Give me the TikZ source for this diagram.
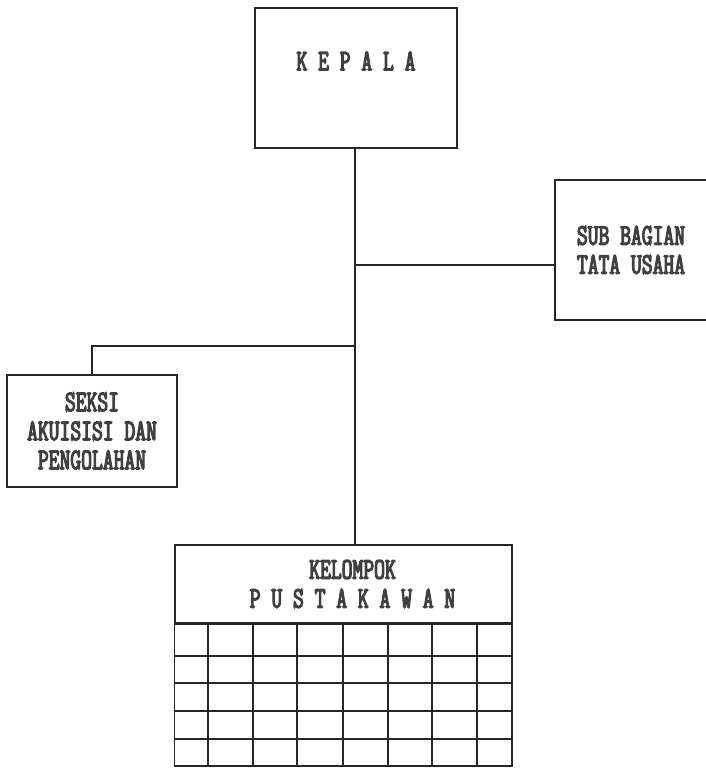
\documentclass[tikz,border=0pt]{standalone}
\usepackage{fontspec}
\newfontfamily\orgfont[FakeStretch=0.7,FakeBold=4]{Latin Modern Mono}
\usetikzlibrary{positioning}

\begin{document}
\begin{tikzpicture}[
            x = 1pt, y = -1pt, % pixel units, y going down
            line width = 1.5pt, % line style
            draw = black!85
        ]

        \tikzset{
            unit/.style = {
                draw = black!85,
                line width = 1.5pt,
                rectangle,
                align = center,
                inner sep = 0pt,
                text = black!75,
                font = \orgfont\fontsize{30}{29}\selectfont
            },
            link/.style = {draw = black!85, line width = 1.5pt}
        }

        \useasboundingbox (0,0) rectangle (705,768);

        \node[unit, minimum width = 202, minimum height = 140, text depth = 34pt] (kepala) at (356,78) {K E P A L A};
        \node[unit, minimum width = 152, minimum height = 140] (tu) at (631,250) {SUB BAGIAN\\TATA USAHA};
        \node[unit, minimum width = 170, minimum height = 112] (seksi) at (92,431) {SEKSI\\AKUISISI DAN\\PENGOLAHAN};
        \node[unit, minimum width = 337, minimum height = 78] (kelompok) at (343.5,584) {\hspace{18pt}KELOMPOK\\\hspace{18pt}P U S T A K A W A N};

        \coordinate (jtu) at (355,265);
        \coordinate (jseksi) at (355,346);

        % lines of command
        \draw[link] (kepala.south -| jtu) -- (kelompok.north -| jtu);
        \draw[link] (jtu) -- (jtu -| tu.west);
        \draw[link] (jseksi) -| (seksi.north);

        % table under the group box
        \draw[link] (kelompok.south west) rectangle (512,766);
        \foreach \x in {208,253,297,343,388,432,477}
            \draw[link] (\x,623) -- (\x,766);
        \foreach \y in {656,683,711,739}
            \draw[link] (175,\y) -- (512,\y);

    \end{tikzpicture}
\end{document}
